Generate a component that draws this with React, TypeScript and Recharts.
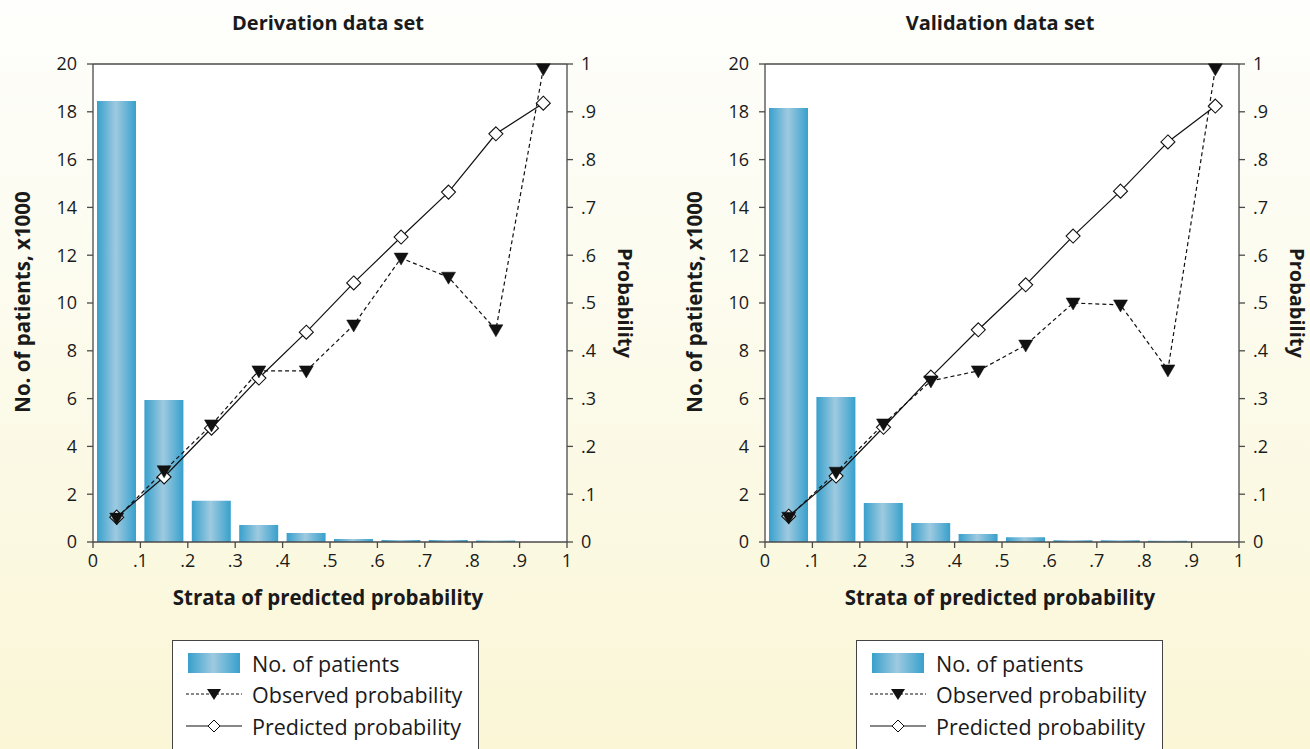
import { Bar, ComposedChart, Line, ReferenceLine, XAxis, YAxis } from "recharts"

const strata = [0.05, 0.15, 0.25, 0.35, 0.45, 0.55, 0.65, 0.75, 0.85, 0.95]

const derivationPatients = [18.45, 5.94, 1.73, 0.71, 0.38, 0.13, 0.08, 0.08, 0.06, 0]
const derivationObserved = [0.05, 0.149, 0.245, 0.358, 0.358, 0.454, 0.594, 0.554, 0.444, 0.99]
const derivationPredicted = [0.052, 0.136, 0.238, 0.343, 0.439, 0.542, 0.638, 0.732, 0.854, 0.918]

const validationPatients = [18.16, 6.07, 1.63, 0.8, 0.33, 0.2, 0.07, 0.07, 0.05, 0]
const validationObserved = [0.052, 0.146, 0.247, 0.337, 0.358, 0.412, 0.5, 0.496, 0.36, 0.99]
const validationPredicted = [0.054, 0.138, 0.24, 0.345, 0.444, 0.538, 0.64, 0.734, 0.837, 0.912]

const xTicks = [0, 0.1, 0.2, 0.3, 0.4, 0.5, 0.6, 0.7, 0.8, 0.9, 1]
const countTicks = [0, 2, 4, 6, 8, 10, 12, 14, 16, 18, 20]
const probTicks = [0, 0.1, 0.2, 0.3, 0.4, 0.5, 0.6, 0.7, 0.8, 0.9, 1]

const FONT = "'Open Sans', 'Noto Sans', sans-serif"
const AXIS = "#4a4a4a"
const TEXT = "#1a1a1a"

const CHART_W = 640
const CHART_H = 749

type Row = { x: number; patients: number; observed: number; predicted: number }

function buildRows(patients: number[], observed: number[], predicted: number[]): Row[] {
  return strata.map((x, i) => ({ x, patients: patients[i], observed: observed[i], predicted: predicted[i] }))
}

function formatProb(v: number) {
  if (v === 0) return "0"
  if (v === 1) return "1"
  return String(v).replace(/^0/, "")
}

function TriangleDot(props: any) {
  const { cx, cy } = props
  if (cx == null || cy == null) return null
  return (
    <polygon
      points={`${cx - 7},${cy - 5} ${cx + 7},${cy - 5} ${cx},${cy + 7}`}
      fill="#111"
      stroke="#111"
      strokeWidth={0.5}
    />
  )
}

function DiamondDot(props: any) {
  const { cx, cy } = props
  if (cx == null || cy == null) return null
  return (
    <polygon
      points={`${cx},${cy - 7} ${cx + 7},${cy} ${cx},${cy + 7} ${cx - 7},${cy}`}
      fill="#fff"
      stroke="#111"
      strokeWidth={1.1}
    />
  )
}

const tickStyle = { fill: TEXT, fontSize: 18, fontFamily: FONT }

function CalibrationChart({ id, data }: { id: string; data: Row[] }) {
  return (
    <ComposedChart
      width={CHART_W}
      height={CHART_H}
      data={data}
      margin={{ top: 64, right: CHART_W - 567 - 50, bottom: CHART_H - 542 - 30, left: 43 }}
    >
      <defs>
        <linearGradient id={`barFill-${id}`} x1="0" y1="0" x2="1" y2="0">
          <stop offset="0%" stopColor="#38a0cc" />
          <stop offset="48%" stopColor="#9ecae0" />
          <stop offset="100%" stopColor="#38a0cc" />
        </linearGradient>
      </defs>
      <rect x={93} y={64} width={474} height={478} fill="#fff" />
      <XAxis
        dataKey="x"
        type="number"
        domain={[0, 1]}
        ticks={xTicks}
        tickFormatter={formatProb}
        height={30}
        tick={tickStyle}
        tickSize={6}
        tickMargin={6}
        axisLine={{ stroke: AXIS, strokeWidth: 1.3 }}
        tickLine={{ stroke: AXIS, strokeWidth: 1.3 }}
        interval={0}
      />
      <YAxis
        yAxisId="count"
        domain={[0, 20]}
        ticks={countTicks}
        width={50}
        tick={tickStyle}
        tickSize={6}
        tickMargin={10}
        axisLine={{ stroke: AXIS, strokeWidth: 1.3 }}
        tickLine={{ stroke: AXIS, strokeWidth: 1.3 }}
        interval={0}
      />
      <YAxis
        yAxisId="prob"
        orientation="right"
        domain={[0, 1]}
        ticks={probTicks}
        tickFormatter={formatProb}
        width={50}
        tick={tickStyle}
        tickSize={6}
        tickMargin={8}
        axisLine={{ stroke: AXIS, strokeWidth: 1.3 }}
        tickLine={{ stroke: AXIS, strokeWidth: 1.3 }}
        interval={0}
      />
      <ReferenceLine yAxisId="count" y={20} stroke={AXIS} strokeWidth={1.3} />
      <Bar
        yAxisId="count"
        dataKey="patients"
        barSize={39}
        fill={`url(#barFill-${id})`}
        isAnimationActive={false}
      />
      <Line
        yAxisId="prob"
        dataKey="predicted"
        stroke="#111"
        strokeWidth={1.2}
        dot={DiamondDot}
        activeDot={false}
        isAnimationActive={false}
      />
      <Line
        yAxisId="prob"
        dataKey="observed"
        stroke="#111"
        strokeWidth={1.2}
        strokeDasharray="4 3"
        dot={TriangleDot}
        activeDot={false}
        isAnimationActive={false}
      />
    </ComposedChart>
  )
}

function LegendBox({ left, top }: { left: number; top: number }) {
  const textProps = { fontFamily: FONT, fontSize: 21.5, fill: TEXT, dominantBaseline: "central" as const }
  return (
    <svg
      width={307}
      height={130}
      style={{ position: "absolute", left, top, overflow: "visible" }}
    >
      <defs>
        <linearGradient id={`legendFill-${left}`} x1="0" y1="0" x2="1" y2="0">
          <stop offset="0%" stopColor="#38a0cc" />
          <stop offset="48%" stopColor="#9ecae0" />
          <stop offset="100%" stopColor="#38a0cc" />
        </linearGradient>
      </defs>
      <rect x={0.5} y={0.5} width={306} height={140} fill="#fff" stroke="#444" strokeWidth={1} />
      <rect x={16} y={13} width={52} height={20} fill={`url(#legendFill-${left})`} />
      <text x={80} y={23} {...textProps}>No. of patients</text>
      <line x1={14} y1={54} x2={70} y2={54} stroke="#111" strokeWidth={1} strokeDasharray="3 2" />
      <polygon points="35,49 49,49 42,60" fill="#111" />
      <text x={80} y={54} {...textProps}>Observed probability</text>
      <line x1={14} y1={86} x2={70} y2={86} stroke="#111" strokeWidth={1} />
      <polygon points="42,80 48,86 42,92 36,86" fill="#fff" stroke="#111" strokeWidth={1} />
      <text x={80} y={86} {...textProps}>Predicted probability</text>
    </svg>
  )
}

function Panel({
  left,
  title,
  id,
  data,
  legendLeft,
}: {
  left: number
  title: string
  id: string
  data: Row[]
  legendLeft: number
}) {
  const bold = { fontFamily: FONT, fontWeight: 700, color: TEXT, whiteSpace: "nowrap" as const, position: "absolute" as const }
  return (
    <div style={{ position: "absolute", left, top: 0, width: CHART_W, height: CHART_H }}>
      <div style={{ ...bold, fontSize: 20, left: 328, top: 22, transform: "translate(-50%, -50%)" }}>{title}</div>
      <CalibrationChart id={id} data={data} />
      <div style={{ ...bold, fontSize: 20.5, left: 328, top: 597, transform: "translate(-50%, -50%)" }}>
        Strata of predicted probability
      </div>
      <div style={{ ...bold, fontSize: 20.5, left: 22, top: 302, transform: "translate(-50%, -50%) rotate(-90deg)" }}>
        No. of patients, x1000
      </div>
      <div style={{ ...bold, fontSize: 20, left: 625, top: 303, transform: "translate(-50%, -50%) rotate(90deg)" }}>
        Probability
      </div>
      <LegendBox left={legendLeft} top={640} />
    </div>
  )
}

export default function App() {
  const derivation = buildRows(derivationPatients, derivationObserved, derivationPredicted)
  const validation = buildRows(validationPatients, validationObserved, validationPredicted)
  return (
    <div
      style={{
        position: "absolute",
        left: 0,
        top: 0,
        width: 1310,
        height: 749,
        overflow: "hidden",
        background: "linear-gradient(to bottom, #fefefc 0%, #fcfbec 45%, #faf6d6 100%)",
      }}
    >
      <Panel left={0} title="Derivation data set" id="der" data={derivation} legendLeft={172} />
      <Panel left={672} title="Validation data set" id="val" data={validation} legendLeft={184} />
    </div>
  )
}
